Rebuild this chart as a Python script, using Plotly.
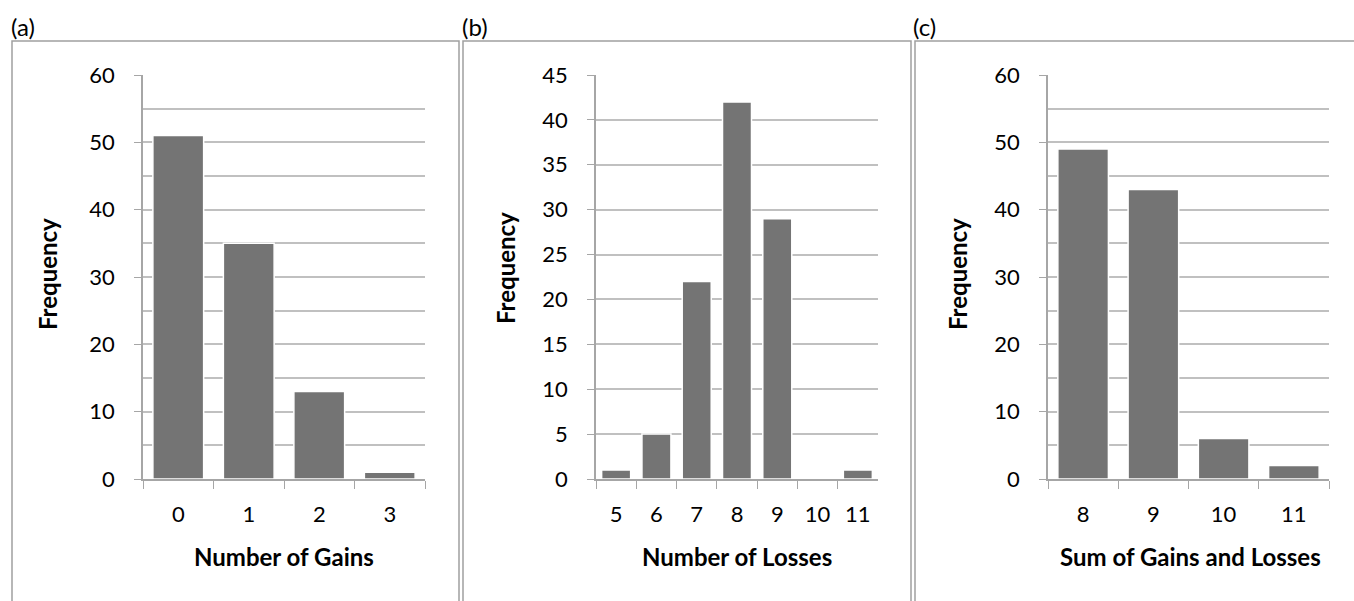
import plotly.graph_objects as go

W, H = 1354, 601

gains_cats = ["0", "1", "2", "3"]
gains_vals = [51, 35, 13, 1]

losses_cats = ["5", "6", "7", "8", "9", "10", "11"]
losses_vals = [1, 5, 22, 42, 29, 0, 1]

sum_cats = ["8", "9", "10", "11"]
sum_vals = [49, 43, 6, 2]

panel_labels = ["(a)", "(b)", "(c)"]
x_titles = ["Number of Gains", "Number of Losses", "Sum of Gains and Losses"]
y_title = "Frequency"

FONT = "Lato, Open Sans, sans-serif"
TICK_SIZE = 22
TITLE_SIZE = 24
BAR = "#747474"
GRID = "#c0c0c0"
AXIS = "#a6a6a6"
BORDER = "#a0a0a0"


def px(x):
    return x / W


def py(y):
    return 1 - y / H


# axis pixel geometry: (x0, x1, ytop, ybottom)
geo = [(143, 425, 75, 479), (596, 878, 75, 479), (1048, 1329, 75, 479)]
yranges = [(0, 60, 10, 5), (0, 45, 5, None), (0, 60, 10, 5)]
data = [(gains_cats, gains_vals), (losses_cats, losses_vals), (sum_cats, sum_vals)]

fig = go.Figure()
layout = dict(
    width=W, height=H, margin=dict(l=0, r=0, t=0, b=0, pad=0, autoexpand=False),
    paper_bgcolor="white", plot_bgcolor="white", showlegend=False,
    font=dict(family=FONT, size=TICK_SIZE, color="#000"),
    bargap=0.28,
)

for i, ((cats, vals), (x0, x1, yt, yb), (ymin, ymax, dt, mdt)) in enumerate(zip(data, geo, yranges)):
    xa = "x" if i == 0 else f"x{i+1}"
    ya = "y" if i == 0 else f"y{i+1}"
    fig.add_trace(go.Bar(
        x=cats, y=vals, xaxis=xa, yaxis=ya,
        marker=dict(color=BAR, line=dict(color="white", width=1.5)),
        hoverinfo="x+y",
    ))
    xkey = "xaxis" if i == 0 else f"xaxis{i+1}"
    ykey = "yaxis" if i == 0 else f"yaxis{i+1}"
    layout[xkey] = dict(
        domain=[px(x0), px(x1)], anchor=ya, type="category", automargin=False,
        tickson="boundaries", ticks="outside", ticklen=8, tickcolor=AXIS,
        showline=True, linecolor=AXIS, linewidth=1.5, showgrid=False,
        tickfont=dict(size=TICK_SIZE, family=FONT), ticklabelstandoff=15,
        fixedrange=True,
    )
    ydict = dict(
        domain=[py(yb), py(yt)], anchor=xa, range=[ymin, ymax], dtick=dt,
        automargin=False,
        ticks="outside", ticklen=7, tickcolor=AXIS,
        showline=True, linecolor=AXIS, linewidth=1.5,
        showgrid=True, gridcolor=GRID, gridwidth=1.5, zeroline=False,
        tickfont=dict(size=TICK_SIZE, family=FONT), ticklabelstandoff=15,
        fixedrange=True,
    )
    if mdt:
        ydict["minor"] = dict(dtick=mdt, showgrid=True, gridcolor=GRID, gridwidth=1.5, ticks="")
    layout[ykey] = ydict

fig.update_layout(**layout)

# panel borders (double lines between panels)
borders = [(12, 41, 459, 605), (463, 41, 911, 605), (915, 41, 1360, 605)]
for (bx0, by0, bx1, by1) in borders:
    fig.add_shape(type="rect", xref="paper", yref="paper",
                  x0=px(bx0), y0=py(by1), x1=px(bx1), y1=py(by0),
                  line=dict(color=BORDER, width=1.5), layer="below")

label_x = [9, 460, 911]
for lx, lab in zip(label_x, panel_labels):
    fig.add_annotation(xref="paper", yref="paper", x=px(lx), y=py(27),
                       text=lab, showarrow=False, xanchor="left", yanchor="middle",
                       font=dict(size=24, family=FONT))

ytitle_pos = [(47, 274), (505, 268), (957, 274)]
for (tx, ty) in ytitle_pos:
    fig.add_annotation(xref="paper", yref="paper", x=px(tx), y=py(ty),
                       text=f"<b>{y_title}</b>", showarrow=False, textangle=-90,
                       xanchor="center", yanchor="middle",
                       font=dict(size=TITLE_SIZE, family=FONT))

xtitle_x = [284, 737, 1190]
for tx, t in zip(xtitle_x, x_titles):
    fig.add_annotation(xref="paper", yref="paper", x=px(tx), y=py(556),
                       text=f"<b>{t}</b>", showarrow=False,
                       xanchor="center", yanchor="middle",
                       font=dict(size=TITLE_SIZE, family=FONT))

fig.write_html("out.html", config={"displayModeBar": False},
               post_script="document.body.style.margin='0';document.body.style.overflow='hidden';")
